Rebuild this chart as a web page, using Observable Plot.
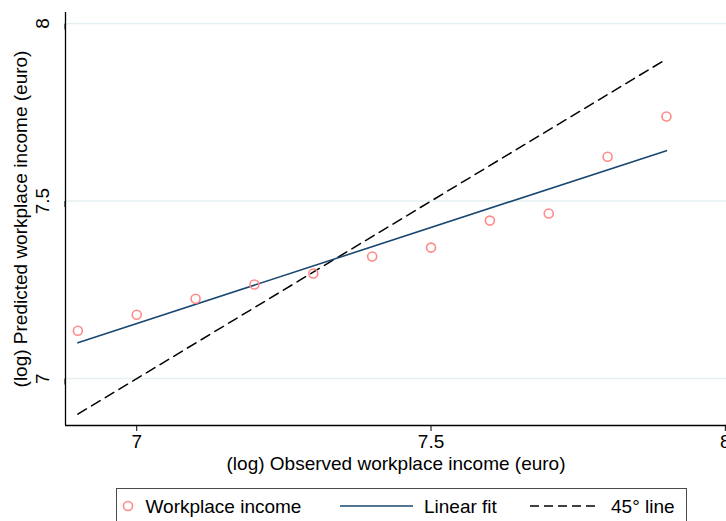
<!DOCTYPE html>
<html>
<head>
<meta charset="utf-8">
<script src="https://cdn.jsdelivr.net/npm/d3@7"></script>
<script src="https://cdn.jsdelivr.net/npm/@observablehq/plot@0.6"></script>
<style>
  body { margin: 0; background: #fff; font-family: "Liberation Sans", Arial, sans-serif; }
  #wrap { position: relative; width: 726px; height: 521px; overflow: hidden; }
  #legend { position: absolute; left: 116px; top: 488px; width: 571px; height: 40px;
    border: 1.5px solid #4a4a4a; box-sizing: border-box; }
</style>
</head>
<body>
<div id="wrap"><div id="chart"></div><div id="legend"></div></div>
<script>
// Data
const observed = [6.9, 7.0, 7.1, 7.2, 7.3, 7.4, 7.5, 7.6, 7.7, 7.8, 7.9];
const predicted = [7.135, 7.180, 7.225, 7.265, 7.296, 7.344, 7.369, 7.445, 7.465, 7.625, 7.738];
const fitX = [6.9, 7.9];
const fitY = [7.101, 7.642];
const diagX = [6.9, 7.9];
const diagY = [6.9, 7.9];
const xTicks = [7, 7.5, 8];
const yTicks = [7, 7.5, 8];
const xTitle = "(log) Observed workplace income (euro)";
const yTitle = "(log) Predicted workplace income (euro)";
const legendLabels = ["Workplace income", "Linear fit", "45° line"];

const points = observed.map((x, i) => ({x, y: predicted[i]}));
const fit = fitX.map((x, i) => ({x, y: fitY[i]}));
const diag = diagX.map((x, i) => ({x, y: diagY[i]}));

const pointColor = "#ff8a8a";
const fitColor = "#1a476f";
const fs = 19;

const chart = Plot.plot({
  width: 726,
  height: 480,
  marginLeft: 65,
  marginRight: 0,
  marginTop: 12,
  marginBottom: 55,
  style: {fontFamily: "Liberation Sans, Arial, sans-serif", fontSize: fs + "px", background: "#fff", color: "#000"},
  x: {domain: [6.879, 8.002]},
  y: {domain: [6.868, 8.031]},
  marks: [
    Plot.gridY(yTicks, {stroke: "#e6eff1", strokeOpacity: 1, strokeWidth: 1.5}),
    Plot.line(diag, {x: "x", y: "y", stroke: "#000", strokeWidth: 1.5, strokeDasharray: "10,6"}),
    Plot.line(fit, {x: "x", y: "y", stroke: fitColor, strokeWidth: 1.6}),
    Plot.dot(points, {x: "x", y: "y", r: 4.5, stroke: pointColor, strokeWidth: 1.6, fill: "none"}),
    Plot.ruleX([6.879], {stroke: "#000", strokeWidth: 1.3}),
    Plot.ruleY([6.868], {stroke: "#000", strokeWidth: 1.3}),
    Plot.axisX(xTicks, {tickSize: 6, tickPadding: 3, fontSize: fs, label: null, tickFormat: d => String(d)}),
    Plot.axisY(yTicks, {tickSize: 6, tickPadding: 17, fontSize: fs, label: null, rotate: -90, textAnchor: "middle", tickFormat: d => String(d)}),
    Plot.text([xTitle], {frameAnchor: "bottom", dy: 44, fontSize: fs, textAnchor: "middle", text: d => d}),
    Plot.text([yTitle], {frameAnchor: "left", dx: -45, rotate: -90, fontSize: fs, textAnchor: "middle", text: d => d})
  ]
});
document.getElementById("chart").appendChild(chart);

// Legend
const ns = "http://www.w3.org/2000/svg";
const lg = document.createElementNS(ns, "svg");
lg.setAttribute("width", 568); lg.setAttribute("height", 37);
lg.style.fontFamily = "Liberation Sans, Arial, sans-serif";
lg.style.display = "block";
lg.innerHTML = `
  <circle cx="11" cy="17" r="4.5" fill="none" stroke="${pointColor}" stroke-width="1.6"/>
  <text x="28.5" y="17" dy="0.35em" font-size="${fs}">${legendLabels[0]}</text>
  <line x1="223" x2="296" y1="17" y2="17" stroke="${fitColor}" stroke-width="1.6"/>
  <text x="307" y="17" dy="0.35em" font-size="${fs}">${legendLabels[1]}</text>
  <line x1="413" x2="481" y1="17" y2="17" stroke="#000" stroke-width="1.5" stroke-dasharray="9,5"/>
  <text x="494" y="17" dy="0.35em" font-size="${fs}">${legendLabels[2]}</text>`;
document.getElementById("legend").appendChild(lg);
</script>
</body>
</html>
